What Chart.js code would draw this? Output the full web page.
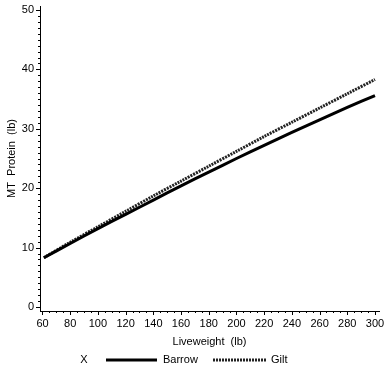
<!DOCTYPE html>
<html>
<head>
<meta charset="utf-8">
<script src="https://cdn.jsdelivr.net/npm/chart.js@4/dist/chart.umd.min.js"></script>
<style>
  html, body { margin: 0; padding: 0; background: #fff; }
  #wrap { width: 391px; height: 372px; }
</style>
</head>
<body>
<div id="wrap"><canvas id="chart"></canvas></div>
<script>
const liveweight = [61, 80, 100, 120, 140, 160, 180, 200, 220, 240, 260, 280, 300];
const barrow = [8.3, 10.7, 13.2, 15.6, 18.0, 20.4, 22.7, 25.0, 27.2, 29.4, 31.5, 33.6, 35.6];
const gilt = [8.3, 10.9, 13.5, 16.1, 18.7, 21.2, 23.7, 26.2, 28.7, 31.1, 33.5, 35.9, 38.3];
const xTicks = [60, 80, 100, 120, 140, 160, 180, 200, 220, 240, 260, 280, 300];
const yTicks = [0, 10, 20, 30, 40, 50];
const legendMarker = "X";

const font = { family: "'Liberation Sans', Arial, sans-serif", size: 11 };

function pts(ys) {
  return liveweight.map((x, i) => ({ x: x, y: ys[i] }));
}

// tick marks: long at labelled values, short in between
const tickMarks = {
  id: "tickMarks",
  afterDraw(chart) {
    const ctx = chart.ctx;
    const xs = chart.scales.x, ys = chart.scales.y;
    ctx.save();
    ctx.strokeStyle = "#000";
    ctx.lineWidth = 1;
    ctx.beginPath();
    for (let v = xTicks[0]; v <= xTicks[xTicks.length - 1]; v += 5) {
      const px = Math.round(xs.getPixelForValue(v)) + 0.5;
      const len = xTicks.includes(v) ? 4 : 2;
      ctx.moveTo(px, ys.bottom);
      ctx.lineTo(px, ys.bottom + len);
    }
    for (let v = yTicks[0]; v <= yTicks[yTicks.length - 1]; v += 1) {
      const py = Math.round(ys.getPixelForValue(v)) + 0.5;
      const len = yTicks.includes(v) ? 4 : 2;
      ctx.moveTo(xs.left, py);
      ctx.lineTo(xs.left - len, py);
    }
    ctx.stroke();

    // legend row
    const ly = 360;
    ctx.fillStyle = "#000";
    ctx.font = font.size + "px " + font.family;
    ctx.textBaseline = "middle";
    ctx.textAlign = "center";
    ctx.fillText(legendMarker, 84, ly);
    ctx.textAlign = "left";
    const items = [[106, 157, 163], [213, 266, 271]];
    chart.data.datasets.forEach((ds, i) => {
      const [a, b, t] = items[i];
      ctx.save();
      ctx.strokeStyle = ds.borderColor;
      ctx.lineWidth = ds.borderWidth;
      ctx.setLineDash(ds.borderDash || []);
      ctx.beginPath();
      ctx.moveTo(a, ly);
      ctx.lineTo(b, ly);
      ctx.stroke();
      ctx.restore();
      ctx.fillText(ds.label, t, ly);
    });
    ctx.restore();
  }
};

new Chart(document.getElementById("chart"), {
  type: "line",
  data: {
    datasets: [
      { label: "Barrow", data: pts(barrow), borderColor: "#000", borderWidth: 3, pointRadius: 0, tension: 0.3 },
      { label: "Gilt", data: pts(gilt), borderColor: "#222", borderWidth: 3, borderDash: [2, 1], pointRadius: 0, tension: 0.3 }
    ]
  },
  options: {
    responsive: true,
    maintainAspectRatio: false,
    animation: false,
    layout: { padding: { left: 0, right: 12, top: 6, bottom: 0 } },
    plugins: { legend: { display: false }, tooltip: { enabled: false } },
    scales: {
      x: {
        type: "linear",
        min: 58.2,
        max: 302.9,
        afterBuildTicks: s => { s.ticks = xTicks.map(v => ({ value: v })); },
        afterFit: s => { s.height = 61; s.paddingLeft = 0; s.paddingRight = 0; },
        grid: { display: false, drawTicks: false },
        border: { display: true, color: "#000", width: 1 },
        ticks: { color: "#000", font: font, padding: 6, maxRotation: 0, autoSkip: false },
        title: { display: true, text: "Liveweight  (lb)", color: "#000", font: font, padding: { top: 0, bottom: 23 } }
      },
      y: {
        min: -0.67,
        max: 50.67,
        afterBuildTicks: s => { s.ticks = yTicks.map(v => ({ value: v })); },
        afterFit: s => { s.width = 40; s.paddingTop = 0; s.paddingBottom = 0; },
        grid: { display: false, drawTicks: false },
        border: { display: true, color: "#000", width: 1 },
        ticks: { color: "#000", font: font, padding: 6 },
        title: { display: true, text: "MT  Protein  (lb)", color: "#000", font: font, padding: { top: 5, bottom: 0 } }
      }
    }
  },
  plugins: [tickMarks]
});
</script>
</body>
</html>
